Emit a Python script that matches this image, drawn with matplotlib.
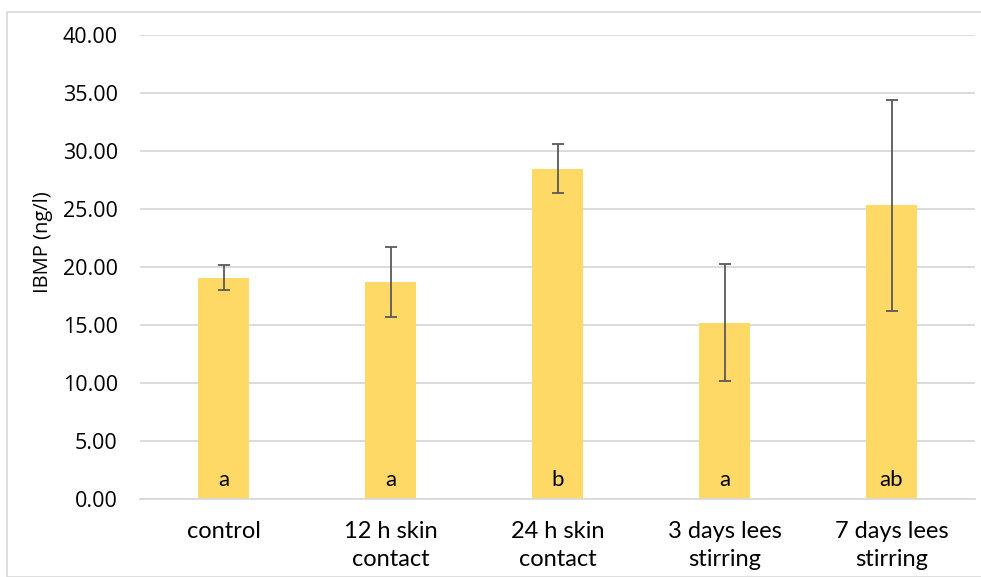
import matplotlib
matplotlib.use("Agg")
import matplotlib.pyplot as plt
from matplotlib.patches import Rectangle
import numpy as np

categories = ["control", "12 h skin\ncontact", "24 h skin\ncontact", "3 days lees\nstirring", "7 days lees\nstirring"]
means = [19.08, 18.68, 28.47, 15.20, 25.32]
errors = [1.08, 3.03, 2.11, 5.07, 9.08]
letters = ["a", "a", "b", "a", "ab"]
yticks = [0, 5, 10, 15, 20, 25, 30, 35, 40]

fig = plt.figure(figsize=(9.81, 5.77), dpi=100)
fig.patches.append(Rectangle((7/981, 0), 1, 1 - 12/577, transform=fig.transFigure,
                             fill=False, edgecolor="#D9D9D9", linewidth=1.2))
ax = fig.add_axes([140/981, 1 - 499/577, 835/981, 464/577])

x = np.arange(len(categories))
ax.bar(x, means, width=0.305, color="#FFD966", zorder=2)
ax.errorbar(x, means, yerr=errors, fmt="none", ecolor="#595959", elinewidth=1.3,
            capsize=4, capthick=1.3, zorder=3)
for xi, t in zip(x, letters):
    ax.text(xi, 1.65, t, ha="center", va="center", fontsize=16, family="Lato", color="#000000", zorder=4)

ax.set_xlim(-0.5, len(categories) - 0.5)
ax.set_ylim(0, 40)
ax.set_yticks(yticks)
ax.set_yticklabels([f"{v:.2f}" for v in yticks], family="Open Sans", fontsize=15.5)
ax.set_xticks(x)
ax.set_xticklabels(categories, family="Lato", fontsize=17, linespacing=1.4)
ax.tick_params(axis="both", length=0, colors="#000000")
ax.tick_params(axis="x", pad=16)
ax.tick_params(axis="y", pad=16)
ax.yaxis.grid(True, color="#D9D9D9", linewidth=1.3, zorder=0)
ax.set_axisbelow(True)
for s in ["top", "right", "left"]:
    ax.spines[s].set_visible(False)
ax.spines["bottom"].set_color("#D9D9D9")
ax.spines["bottom"].set_linewidth(1.3)
fig.text(43/981, 1 - 242/577, "IBMP (ng/l)", family="Open Sans", fontsize=14.5,
         rotation=90, ha="center", va="center")
fig.savefig("out.png", dpi=100)
